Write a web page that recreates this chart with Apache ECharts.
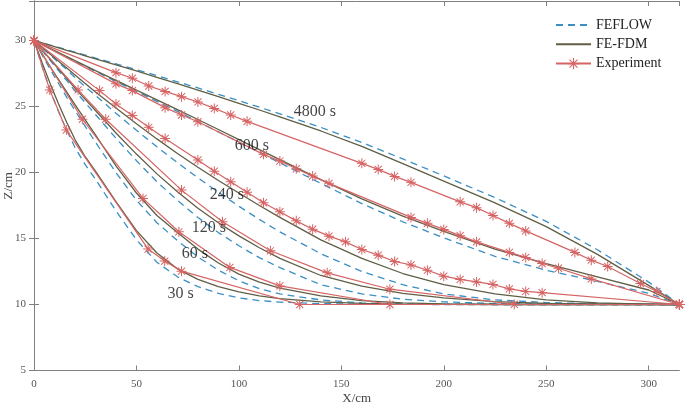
<!DOCTYPE html>
<html>
<head>
<meta charset="utf-8">
<script src="https://cdn.jsdelivr.net/npm/echarts@6/dist/echarts.min.js"></script>
<style>html,body{margin:0;padding:0;background:#fff;}#c{width:685px;height:407px;}</style>
</head>
<body>
<div id="c"></div>
<script>
// ---- model x grid (cm) ----
const xModel = [0,4,8,12,16,20,25,30,40,50,60,70,80,90,100,110,120,140,160,180,200,225,250,275,300,315];

// FE-FDM (solid) water table Z (cm)
const fdm30   = [30,28.3,26.7,25.2,23.8,22.5,21.2,20.1,17.8,15.6,13.9,12.7,11.9,11.35,10.95,10.65,10.45,10.2,10.08,10.03,10.01,10,10,10,10,10];
const fdm60   = [30,29.0,28.0,27.05,26.1,25.15,24.0,22.85,20.5,18.45,16.75,15.45,14.2,13.15,12.3,11.7,11.25,10.65,10.3,10.12,10.05,10.02,10,10,10,10];
const fdm120  = [30,29.28,28.56,27.84,27.12,26.4,25.55,24.7,23.0,21.4,19.9,18.55,17.3,16.2,15.2,14.3,13.5,12.2,11.4,10.85,10.5,10.22,10.08,10.03,10.01,10];
const fdm240  = [30,29.48,28.96,28.44,27.92,27.4,26.75,26.1,24.9,23.7,22.55,21.45,20.4,19.4,18.45,17.5,16.6,14.9,13.5,12.35,11.5,10.8,10.35,10.12,10.03,10];
const fdm600  = [30,29.7,29.39,29.09,28.79,28.48,28.1,27.72,26.98,26.25,25.51,24.77,24.02,23.26,22.5,21.74,20.98,19.46,18.0,16.7,15.55,14.2,13.1,12.1,11.1,10];
const fdm4800 = [30,29.82,29.63,29.45,29.26,29.08,28.85,28.62,28.16,27.7,27.22,26.74,26.25,25.75,25.25,24.74,24.22,23.15,21.98,20.67,19.35,17.7,15.9,13.8,11.45,10];

// FEFLOW (dashed) water table Z (cm)
const ff30   = [30,28.0,26.2,24.6,23.2,21.9,20.6,19.5,17.1,14.9,13.2,12.1,11.35,10.85,10.5,10.3,10.18,10.07,10.03,10.01,10,10,10,10,10,10];
const ff60   = [30,28.9,27.8,26.75,25.7,24.7,23.5,22.3,20.0,17.9,16.2,14.85,13.6,12.6,11.8,11.2,10.8,10.35,10.12,10.05,10.02,10,10,10,10,10];
const ff120  = [30,29.24,28.48,27.72,26.96,26.2,25.3,24.4,22.6,20.9,19.3,17.9,16.6,15.45,14.45,13.55,12.8,11.5,10.8,10.4,10.2,10.08,10.03,10.01,10,10];
const ff240  = [30,29.45,28.9,28.35,27.8,27.2,26.5,25.85,24.5,23.2,21.95,20.75,19.6,18.5,17.45,16.45,15.5,13.85,12.5,11.5,10.8,10.35,10.15,10.05,10.01,10];
const ff600  = [30,29.69,29.38,29.06,28.75,28.44,28.05,27.67,26.91,26.15,25.39,24.63,23.86,23.08,22.3,21.52,20.74,19.18,17.65,16.27,15.05,13.65,12.6,11.75,10.85,10];
const ff4800 = [30,29.83,29.65,29.48,29.30,29.12,28.9,28.68,28.24,27.8,27.34,26.88,26.41,25.93,25.45,24.95,24.45,23.42,22.28,21.03,19.75,18.1,16.3,14.15,11.7,10];

// Experiment points
const expX30  = [0,7.7,15.8,55.7,63.8,72.0,129.7,315];
const expZ30  = [30,26.26,23.22,14.2,13.29,12.53,10.0,10.0];
const expX60  = [0,23.6,53.2,70.7,95.6,120.0,173.7,315];
const expZ60  = [30,24.04,18.04,15.51,12.81,11.41,10.0,10.0];
const expX120 = [0,21.5,35.0,72.0,92.0,115.4,143.1,173.7,234.4,315];
const expZ120 = [30,26.26,24.04,18.67,16.27,14.07,12.40,11.16,10.02,10.0];
const expX240 = [0,32,40,48,56,64,80,88,96,104,112,120,128,136,144,152,160,168,176,184,192,200,208,216,224,232,240,248,315];
const expZ240 = [30,26.21,25.20,24.33,23.43,22.58,20.95,20.10,19.30,18.50,17.71,17.03,16.34,15.71,15.18,14.75,14.17,13.74,13.26,13.00,12.60,12.15,11.90,11.71,11.52,11.18,10.99,10.90,10.0];
const expX600 = [0,40,48,64,72,80,112,120,128,136,144,184,192,200,208,216,232,240,248,256,272,315];
const expZ600 = [30,26.72,26.21,24.92,24.36,23.85,21.38,20.87,20.29,19.73,19.18,16.60,16.15,15.69,15.22,14.75,13.95,13.57,13.11,12.75,11.94,10];
const expX4800 = [0,40,48,56,64,72,80,88,96,104,160,168,176,184,208,216,224,232,240,264,272,280,296,304,315];
const expZ4800 = [30,27.57,27.15,26.56,26.15,25.75,25.35,24.86,24.36,23.88,20.70,20.24,19.71,19.26,17.78,17.34,16.75,16.15,15.58,13.95,13.36,12.88,11.59,10.99,10];

// Curve labels
const labelText = ['4800 s','600 s','240 s','120 s','60 s','30 s'];
const labelX = [137.1,106.3,94.1,85.3,78.5,71.6];
const labelZ = [24.59,22.01,18.29,15.79,13.82,10.78];

const xTicks = {min:0, max:315, interval:50};
const yTicks = {min:5, max:33, interval:5};

const C_FF = '#3a8fc3', C_FDM = '#5f5f46', C_EXP = '#d66464';
const SERIF = "'Times New Roman','Liberation Serif','DejaVu Serif',serif";
const STAR = 'path://M9 0L11 0L11 20L9 20Z M0 9L20 9L20 11L0 11Z M2.2 3.6L3.6 2.2L17.8 16.4L16.4 17.8Z M16.4 2.2L17.8 3.6L3.6 17.8L2.2 16.4Z';

function zip(xs, zs){ return xs.map((x,i)=>[x, zs[i]]); }

const series = [];
const ffSets = [ff30,ff60,ff120,ff240,ff600,ff4800];
const fdmSets = [fdm30,fdm60,fdm120,fdm240,fdm600,fdm4800];
const expSets = [[expX30,expZ30],[expX60,expZ60],[expX120,expZ120],[expX240,expZ240],[expX600,expZ600],[expX4800,expZ4800]];
for (let k=0;k<6;k++){
  series.push({name:'FEFLOW', type:'line', data:zip(xModel, ffSets[k]), symbol:'none',
    lineStyle:{color:C_FF, width:1.3, type:[7,5]}, itemStyle:{color:C_FF}, z:2});
  series.push({name:'FE-FDM', type:'line', data:zip(xModel, fdmSets[k]), symbol:'none',
    lineStyle:{color:C_FDM, width:1.3}, itemStyle:{color:C_FDM}, z:3});
}
for (let k=0;k<6;k++){
  series.push({name:'Experiment', type:'line', data:zip(expSets[k][0], expSets[k][1]), symbol:STAR, symbolSize:10,
    lineStyle:{color:C_EXP, width:1.2}, itemStyle:{color:C_EXP}, z:4});
}
series.push({type:'scatter', symbolSize:0, silent:true, z:6,
  data: labelText.map((t,i)=>[labelX[i], labelZ[i], t]),
  label:{show:true, position:'inside', formatter:p=>p.data[2], fontFamily:SERIF, fontSize:16, color:'#111'}});

const axisCommon = {
  axisLine:{show:true, lineStyle:{color:'#808080', width:1}},
  axisTick:{show:true, inside:true, length:5, lineStyle:{color:'#808080'}},
  splitLine:{show:false}
};

const chart = echarts.init(document.getElementById('c'), null, {renderer:'canvas'});
chart.setOption({
  animation:false,
  backgroundColor:'#fff',
  grid:{left:34, right:5.6, top:1, bottom:36.5, containLabel:false, outerBoundsMode:'none'},
  legend:{
    data:[{name:'FEFLOW', itemStyle:{opacity:0}}, {name:'FE-FDM', itemStyle:{opacity:0}}, {name:'Experiment'}],
    orient:'vertical', left:550, top:13,
    itemWidth:35, itemHeight:14, itemGap:5.3,
    textStyle:{fontFamily:SERIF, fontSize:14, color:'#222', lineHeight:14}
  },
  xAxis:[
    Object.assign({type:'value', position:'bottom', name:'X/cm', nameLocation:'middle', nameGap:22, nameMoveOverlap:false,
      nameTextStyle:{fontFamily:SERIF, fontSize:13, color:'#444'},
      axisLabel:{fontFamily:SERIF, fontSize:11, color:'#555', margin:8, showMaxLabel:false}}, xTicks, axisCommon),
    Object.assign({type:'value', position:'top', axisLabel:{show:false}}, xTicks, axisCommon)
  ],
  yAxis:[
    Object.assign({type:'value', position:'left', name:'Z/cm', nameLocation:'middle', nameGap:19, nameRotate:90, nameMoveOverlap:false,
      nameTextStyle:{fontFamily:SERIF, fontSize:13, color:'#444'},
      axisLabel:{fontFamily:SERIF, fontSize:11, color:'#555', margin:8, showMaxLabel:false}}, yTicks, axisCommon),
    Object.assign({type:'value', position:'right', axisLabel:{show:false}}, yTicks, axisCommon)
  ],
  series: series
});
</script>
</body>
</html>
